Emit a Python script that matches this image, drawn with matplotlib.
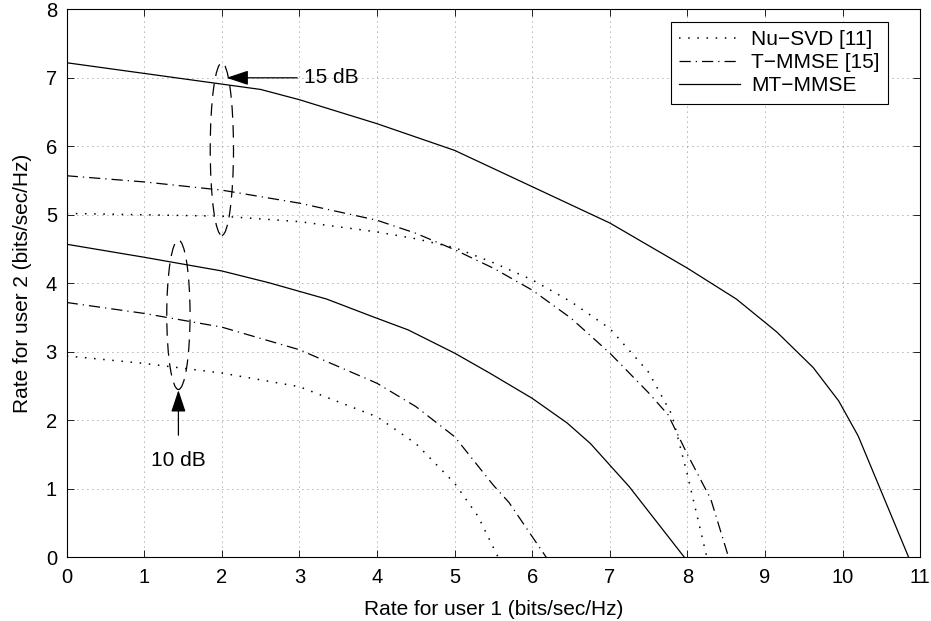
import matplotlib
matplotlib.use("Agg")
import matplotlib.pyplot as plt
from matplotlib.patches import Ellipse

plt.rcParams['font.family'] = ['Liberation Sans', 'DejaVu Sans']

# ---- data ----
nusvd15_x = [0, 1, 2, 3, 4, 4.5, 5, 5.5, 6, 6.5, 7, 7.5, 7.8, 8, 8.25]
nusvd15_y = [5.02, 5.0, 4.98, 4.90, 4.75, 4.65, 4.52, 4.30, 4.05, 3.73, 3.34, 2.70, 2.08, 1.20, 0]

tmmse15_x = [0, 1, 2, 3, 4, 4.5, 5, 5.5, 6, 6.5, 7, 7.5, 7.75, 8, 8.3, 8.53]
tmmse15_y = [5.57, 5.48, 5.36, 5.17, 4.92, 4.73, 4.49, 4.22, 3.90, 3.49, 2.98, 2.40, 2.08, 1.50, 0.85, 0]

mtmmse15_x = [0, 2.5, 3, 4, 5, 6, 7, 8, 8.63, 9.15, 9.62, 9.95, 10.2, 10.85]
mtmmse15_y = [7.22, 6.83, 6.68, 6.33, 5.94, 5.41, 4.88, 4.22, 3.77, 3.29, 2.77, 2.28, 1.77, 0]

nusvd10_x = [0, 1, 2, 3, 4, 4.5, 5, 5.3, 5.56]
nusvd10_y = [2.94, 2.83, 2.69, 2.49, 2.05, 1.66, 1.08, 0.60, 0]

tmmse10_x = [0, 1, 2, 3, 4, 4.5, 5, 5.5, 5.7, 6, 6.18]
tmmse10_y = [3.72, 3.56, 3.36, 3.03, 2.54, 2.20, 1.76, 1.05, 0.80, 0.30, 0]

mtmmse10_x = [0, 1, 2, 2.6, 3.35, 3.95, 4.4, 5, 5.45, 6, 6.45, 6.75, 7.25, 7.96]
mtmmse10_y = [4.57, 4.38, 4.18, 4.01, 3.77, 3.51, 3.32, 2.98, 2.69, 2.32, 1.96, 1.66, 1.03, 0]

legend_labels = ['Nu\u2212SVD [11]', 'T\u2212MMSE [15]', 'MT\u2212MMSE']
xticks = list(range(0, 12))
yticks = list(range(0, 9))

fig = plt.figure(figsize=(9.31, 6.21), dpi=100)
ax = fig.add_axes([0.0716, 0.1026, 0.9169, 0.8824])

lw = 0.9
dot_style = (0, (1, 5))
dashdot_style = (0, (9, 4, 1, 4))

l1, = ax.plot(nusvd15_x, nusvd15_y, color='k', lw=1.1, linestyle=dot_style)
l2, = ax.plot(tmmse15_x, tmmse15_y, color='k', lw=lw, linestyle=dashdot_style)
l3, = ax.plot(mtmmse15_x, mtmmse15_y, color='k', lw=lw, linestyle='-')
ax.plot(nusvd10_x, nusvd10_y, color='k', lw=1.1, linestyle=dot_style)
ax.plot(tmmse10_x, tmmse10_y, color='k', lw=lw, linestyle=dashdot_style)
ax.plot(mtmmse10_x, mtmmse10_y, color='k', lw=lw, linestyle='-')

# dashed ellipses
e1 = Ellipse((2.0, 5.96), 0.30, 2.52, fill=False, edgecolor='k', lw=lw,
             linestyle=(0, (10, 6)))
e2 = Ellipse((1.44, 3.54), 0.30, 2.18, fill=False, edgecolor='k', lw=lw,
             linestyle=(0, (10, 6)))
ax.add_patch(e1)
ax.add_patch(e2)

# annotations
ax.annotate('15 dB', xy=(2.06, 7.0), xytext=(3.06, 7.0), fontsize=15,
            va='center', ha='left',
            arrowprops=dict(arrowstyle='-|>,head_length=0.9,head_width=0.3',
                            color='k', lw=0.9, shrinkA=3, shrinkB=0))
ax.annotate('10 dB', xy=(1.44, 2.44), xytext=(1.44, 1.42), fontsize=15,
            va='center', ha='center',
            arrowprops=dict(arrowstyle='-|>,head_length=0.9,head_width=0.3',
                            color='k', lw=0.9, shrinkA=9, shrinkB=0))

ax.set_xlim(0, 11)
ax.set_ylim(0, 8)
ax.set_xticks(xticks)
ax.set_yticks(yticks)
ax.tick_params(direction='in', top=True, right=True, labelsize=14.5, length=5,
               width=0.6)
ax.tick_params(axis='x', pad=8)
ax.tick_params(axis='y', pad=7)
ax.grid(True, color='0.4', linestyle=(0, (1, 5)), lw=0.6)
for s in ax.spines.values():
    s.set_linewidth(0.8)

ax.set_xlabel('Rate for user 1 (bits/sec/Hz)', fontsize=15, labelpad=9)
ax.set_ylabel('Rate for user 2 (bits/sec/Hz)', fontsize=15, labelpad=10)

leg = ax.legend([l1, l2, l3], legend_labels, loc='upper right', fontsize=15,
                bbox_to_anchor=(0.9622, 0.9774), borderaxespad=0,
                frameon=True, fancybox=False, edgecolor='k', framealpha=1,
                handlelength=2.9, handletextpad=0.55, borderpad=0.4,
                labelspacing=0.2)
leg.get_frame().set_linewidth(0.8)

fig.savefig('out.png', dpi=100)
